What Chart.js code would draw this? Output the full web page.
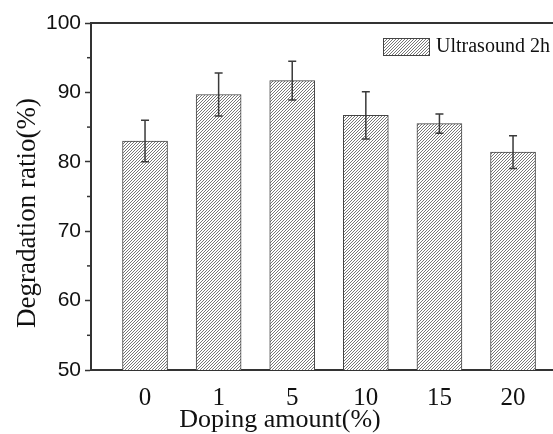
<!DOCTYPE html>
<html>
<head>
<meta charset="utf-8">
<script src="https://cdn.jsdelivr.net/npm/chart.js@4/dist/chart.umd.min.js"></script>
<style>
  html, body { margin: 0; padding: 0; background: #fff; overflow: hidden; }
  #wrap { width: 553px; height: 434px; position: relative; }
</style>
</head>
<body>
<div id="wrap"><canvas id="c" width="553" height="434"></canvas></div>
<script>
// ---- data ----
const categories = ["0", "1", "5", "10", "15", "20"];
const positions = [0, 1, 2, 3, 4, 5];
const degradation = [83.0, 89.7, 91.7, 86.7, 85.5, 81.4];
const errors = [3.0, 3.1, 2.8, 3.4, 1.4, 2.35];
const yTicks = [50, 60, 70, 80, 90, 100];
const yMinorTicks = [55, 65, 75, 85, 95];
const seriesLabel = "Ultrasound 2h";
const xTitle = "Doping amount(%)";
const yTitle = "Degradation ratio(%)";

// hatch pattern
function makeHatch() {
  const s = 3;
  const p = document.createElement('canvas');
  p.width = s; p.height = s;
  const g = p.getContext('2d');
  g.fillStyle = '#fff';
  g.fillRect(0, 0, s, s);
  g.fillStyle = '#777';
  g.fillRect(2, 0, 1, 1);
  g.fillRect(1, 1, 1, 1);
  g.fillRect(0, 2, 1, 1);
  return document.getElementById('c').getContext('2d').createPattern(p, 'repeat');
}
const hatch = makeHatch();

const AX = '#333';
const serif = "'Liberation Serif', 'Times New Roman', serif";
const sans = "'Liberation Sans', Arial, sans-serif";

const errorBars = {
  id: 'errorBars',
  afterDatasetsDraw(chart) {
    const ctx = chart.ctx, xs = chart.scales.x, ys = chart.scales.y;
    ctx.save();
    ctx.strokeStyle = '#3a3a3a';
    ctx.lineWidth = 1.5;
    positions.forEach((p, i) => {
      const x = xs.getPixelForValue(p);
      const yt = ys.getPixelForValue(degradation[i] + errors[i]);
      const yb = ys.getPixelForValue(degradation[i] - errors[i]);
      ctx.beginPath();
      ctx.moveTo(x, yt); ctx.lineTo(x, yb);
      ctx.moveTo(x - 4, yt); ctx.lineTo(x + 4, yt);
      ctx.moveTo(x - 4, yb); ctx.lineTo(x + 4, yb);
      ctx.stroke();
    });
    ctx.restore();
  }
};

const frame = {
  id: 'frame',
  afterDraw(chart) {
    const ctx = chart.ctx, a = chart.chartArea, ys = chart.scales.y;
    ctx.save();
    ctx.strokeStyle = AX;
    ctx.lineWidth = 2;
    ctx.beginPath();
    ctx.moveTo(a.left - 1, a.top); ctx.lineTo(a.right, a.top);
    ctx.stroke();
    ctx.lineWidth = 1.5;
    yMinorTicks.forEach(v => {
      const y = ys.getPixelForValue(v);
      ctx.beginPath();
      ctx.moveTo(a.left - 4, y); ctx.lineTo(a.left, y);
      ctx.stroke();
    });
    // axis titles
    ctx.fillStyle = '#111';
    ctx.font = "26px " + serif;
    ctx.textAlign = 'center';
    ctx.textBaseline = 'alphabetic';
    ctx.fillText(xTitle, 280, 427);
    ctx.save();
    ctx.translate(35, 213);
    ctx.rotate(-Math.PI / 2);
    ctx.font = "27px " + serif;
    ctx.fillText(yTitle, 0, 0);
    ctx.restore();
    // legend
    const bx = a.right - 170, by = a.top + 15;
    ctx.fillStyle = hatch;
    ctx.fillRect(bx, by, 46, 17);
    ctx.strokeStyle = '#444';
    ctx.lineWidth = 1;
    ctx.strokeRect(bx + 0.5, by + 0.5, 46, 17);
    ctx.fillStyle = '#111';
    ctx.font = "20px " + serif;
    ctx.textAlign = 'left';
    ctx.textBaseline = 'middle';
    ctx.fillText(chart.data.datasets[0].label, bx + 53, by + 9);
    ctx.restore();
  }
};

new Chart(document.getElementById('c'), {
  type: 'bar',
  data: {
    datasets: [{
      label: seriesLabel,
      data: positions.map((p, i) => ({ x: p, y: degradation[i] })),
      backgroundColor: hatch,
      borderColor: '#444',
      borderWidth: 1,
      barThickness: 45
    }]
  },
  options: {
    responsive: false,
    animation: false,
    layout: { padding: { left: 0, top: 23, right: 0, bottom: 0 } },
    scales: {
      x: {
        type: 'linear',
        offset: false,
        min: -0.734,
        max: 5.543,
        afterBuildTicks(scale) { scale.ticks = positions.map(v => ({ value: v })); },
        afterFit(scale) { scale.height = 64; },
        grid: { display: false, drawTicks: false },
        border: { display: true, color: AX, width: 2 },
        ticks: {
          padding: 13,
          color: '#111',
          font: { family: serif, size: 25 },
          callback: (v) => categories[v],
          maxRotation: 0
        }
      },
      y: {
        min: 50,
        max: 100,
        afterBuildTicks(scale) { scale.ticks = yTicks.map(v => ({ value: v })); },
        afterFit(scale) { scale.width = 91; },
        grid: { drawOnChartArea: false, drawTicks: true, tickLength: 6, tickColor: AX, tickWidth: 1.5 },
        border: { display: true, color: AX, width: 2 },
        ticks: {
          padding: 4,
          color: '#111',
          font: { family: sans, size: 21 }
        }
      }
    },
    plugins: {
      legend: { display: false },
      tooltip: { enabled: false }
    }
  },
  plugins: [errorBars, frame]
});
</script>
</body>
</html>
